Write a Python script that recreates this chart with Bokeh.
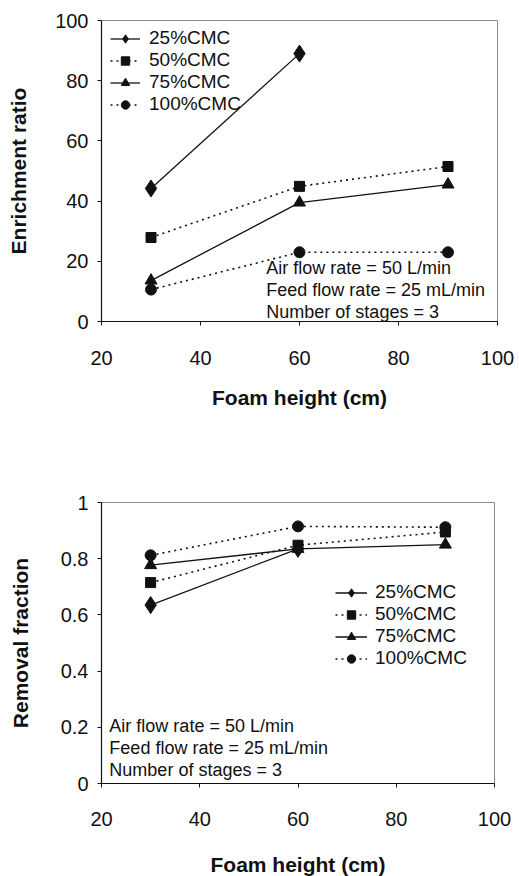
from bokeh.plotting import figure
from bokeh.layouts import column
from bokeh.models import Range1d, FixedTicker, Legend, LegendItem, Label
from bokeh.embed import file_html
from bokeh.resources import INLINE

# ---------------- data ----------------
foam_height = [30, 60, 90]
series_names = ["25%CMC", "50%CMC", "75%CMC", "100%CMC"]

# Enrichment ratio (top chart)
er_25 = [44.2, 89.0]
er_50 = [27.9, 44.9, 51.5]
er_75 = [13.6, 39.5, 45.5]
er_100 = [10.6, 23.0, 23.0]

# Removal fraction (bottom chart)
rf_25 = [0.635, 0.835]
rf_50 = [0.715, 0.848, 0.895]
rf_75 = [0.777, 0.835, 0.850]
rf_100 = [0.812, 0.915, 0.912]

x_ticks = [20, 40, 60, 80, 100]
x_tick_labels = ["20", "40", "60", "80", "100"]
y1_ticks = [0, 20, 40, 60, 80, 100]
y1_tick_labels = ["0", "20", "40", "60", "80", "100"]
y2_ticks = [0, 0.2, 0.4, 0.6, 0.8, 1.0]
y2_tick_labels = ["0", "0.2", "0.4", "0.6", "0.8", "1"]

notes = ["Air flow rate = 50 L/min", "Feed flow rate = 25 mL/min", "Number of stages = 3"]

FONT = "Liberation Sans"
INK = "#111111"

styles = [
    dict(marker="diamond", size=17, dash="solid", lw=1.3),
    dict(marker="square", size=10, dash="2 4", lw=1.6),
    dict(marker="triangle", size=12, dash="solid", lw=1.3),
    dict(marker="circle", size=11, dash="2 4", lw=1.6),
]


def make_fig(frame_w, frame_h, b_left, b_right, b_top, b_bottom, yr, yticks, ylabels, ytitle,
             xlab_standoff, xtitle_standoff, ytitle_standoff):
    p = figure(frame_width=frame_w, frame_height=frame_h,
               min_border_left=b_left, min_border_right=b_right,
               min_border_top=b_top, min_border_bottom=b_bottom,
               x_range=Range1d(20, 100), y_range=yr,
               output_backend="svg", toolbar_location=None,
               background_fill_color="white", border_fill_color="white")
    p.outline_line_color = "#8a8a8a"
    p.outline_line_width = 1
    p.xgrid.visible = False
    p.ygrid.visible = False

    p.xaxis.ticker = FixedTicker(ticks=x_ticks)
    p.xaxis.major_label_overrides = dict(zip(x_ticks, x_tick_labels))
    p.yaxis.ticker = FixedTicker(ticks=yticks)
    p.yaxis.major_label_overrides = dict(zip(yticks, ylabels))

    for ax in (p.xaxis[0], p.yaxis[0]):
        ax.axis_line_color = INK
        ax.axis_line_width = 1.2
        ax.major_tick_line_color = INK
        ax.major_tick_out = 4
        ax.major_tick_in = 0
        ax.minor_tick_line_color = None
        ax.major_label_text_font = FONT
        ax.major_label_text_font_size = "20px"
        ax.major_label_text_color = INK
        ax.axis_label_text_font = FONT
        ax.axis_label_text_font_size = "21px"
        ax.axis_label_text_font_style = "bold"
        ax.axis_label_text_color = INK

    p.xaxis.axis_label = "Foam height (cm)"
    p.xaxis.major_label_standoff = xlab_standoff
    p.xaxis.axis_label_standoff = xtitle_standoff
    p.yaxis.axis_label = ytitle
    p.yaxis.major_label_standoff = 9
    p.yaxis.axis_label_standoff = ytitle_standoff
    return p


def add_series(p, xs_list, ys_list):
    items = []
    for name, xs, ys, st in zip(series_names, xs_list, ys_list, styles):
        ln = p.line(xs, ys, line_color=INK, line_width=st["lw"], line_dash=st["dash"])
        sc = p.scatter(xs, ys, marker=st["marker"], size=st["size"],
                       fill_color=INK, line_color=INK)
        items.append(LegendItem(label=name, renderers=[ln, sc]))
    return items


def add_legend(p, items, loc, gw, standoff):
    leg = Legend(items=items, location=loc, border_line_color=None,
                 background_fill_alpha=0, padding=0, margin=0, spacing=0,
                 glyph_width=gw, glyph_height=21, label_height=21,
                 label_standoff=standoff, label_text_font=FONT,
                 label_text_font_size="19px", label_text_color=INK)
    p.add_layout(leg, "center")


def add_notes(p, x, y):
    for i, t in enumerate(notes):
        p.add_layout(Label(x=x, y=y, y_offset=-22 * i, text=t, text_font=FONT,
                           text_font_size="18px", text_color=INK,
                           text_baseline="middle", text_align="left"))


# ---------------- top chart ----------------
p1 = make_fig(396, 301, 101, 18, 20, 119, Range1d(0, 100), y1_ticks, y1_tick_labels,
              "Enrichment ratio", 25, 18, 22)
items1 = add_series(p1,
                    [foam_height[:2], foam_height, foam_height, foam_height],
                    [er_25, er_50, er_75, er_100])
add_legend(p1, items1, (9, 206), 30, 9)
add_notes(p1, 53.3, 17.9)

# ---------------- bottom chart ----------------
p2 = make_fig(393, 281, 101, 18, 62, 93, Range1d(0, 1), y2_ticks, y2_tick_labels,
              "Removal fraction", 24, 24, 26)
items2 = add_series(p2,
                    [foam_height[:2], foam_height, foam_height, foam_height],
                    [rf_25, rf_50, rf_75, rf_100])
add_legend(p2, items2, (234, 114), 32, 8)
add_notes(p2, 21.6, 0.206)

layout = column(p1, p2, spacing=0)
open("out.html", "w").write(file_html(layout, INLINE))
